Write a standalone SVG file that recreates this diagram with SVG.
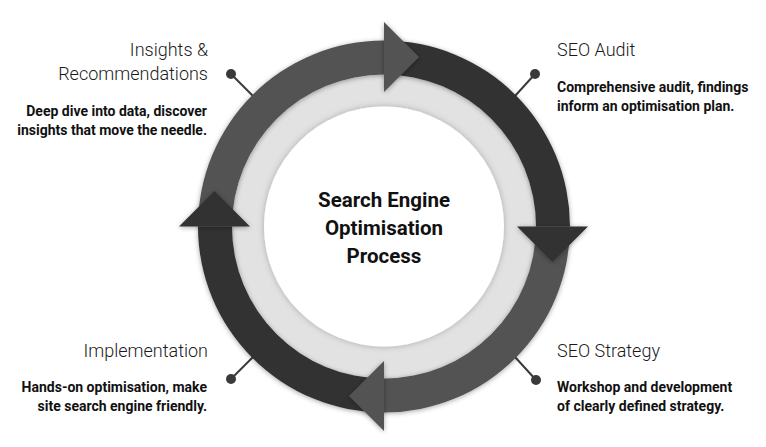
<svg xmlns="http://www.w3.org/2000/svg" width="766" height="447" viewBox="0 0 766 447">
<style>
.title{font-family:Roboto,"Liberation Sans",sans-serif;font-size:18px;font-weight:300;fill:#1a1a1a}
.body{font-family:Roboto,"Liberation Sans",sans-serif;font-size:14px;font-weight:700;fill:#111}
.center{font-family:Roboto,"Liberation Sans",sans-serif;font-size:20.5px;font-weight:700;fill:#111;text-anchor:middle}
.dark{fill:#323232}
.mid{fill:#525252}
.conn{stroke:#3a3a3a;stroke-width:2;fill:none}
.dot{fill:#3a3a3a}
</style>
<defs>
<filter id="sh" x="-20%" y="-20%" width="140%" height="140%">
<feDropShadow dx="0" dy="1" stdDeviation="2.5" flood-color="#000" flood-opacity="0.35"/>
</filter>
<filter id="sh2" x="-20%" y="-20%" width="140%" height="140%">
<feDropShadow dx="0" dy="0" stdDeviation="3" flood-color="#000" flood-opacity="0.25"/>
</filter>
</defs>
<rect width="766" height="447" fill="#fff"/>
<g id="connectors">
<line class="conn" x1="231" y1="74" x2="253" y2="96"/>
<circle class="dot" cx="231" cy="74" r="5"/>
<line class="conn" x1="535" y1="74" x2="515" y2="96"/>
<circle class="dot" cx="535" cy="74" r="5"/>
<line class="conn" x1="231" y1="379" x2="253" y2="357"/>
<circle class="dot" cx="231" cy="379" r="5"/>
<line class="conn" x1="536" y1="380" x2="515" y2="357"/>
<circle class="dot" cx="536" cy="380" r="5"/>
</g>
<g id="ring">
<circle cx="384" cy="226.5" r="152" fill="#e2e2e2"/>
<circle cx="384" cy="226.5" r="120" fill="#fff" filter="url(#sh2)"/>
<g filter="url(#sh)">
<path class="mid" d="M198 226.5A186 186 0 0 1 384 40.5L384 74.5A152 152 0 0 0 232 226.5Z"/>
<path class="dark" d="M384 40.5A186 186 0 0 1 570 226.5L536 226.5A152 152 0 0 0 384 74.5Z"/>
<path class="mid" d="M570 226.5A186 186 0 0 1 384 412.5L384 378.5A152 152 0 0 0 536 226.5Z"/>
<path class="dark" d="M384 412.5A186 186 0 0 1 198 226.5L232 226.5A152 152 0 0 0 384 378.5Z"/>
</g>
<polygon class="mid" filter="url(#sh)" points="384,22 384,92 419,57"/>
<polygon class="dark" filter="url(#sh)" points="517,226.5 588,226.5 552.5,262"/>
<polygon class="mid" filter="url(#sh)" points="384,361 384,431 349,396"/>
<polygon class="dark" filter="url(#sh)" points="250,226.5 179,226.5 214.5,191"/>
</g>
<g id="node-insights" text-anchor="end">
<text class="title" x="208" y="56">Insights &amp;</text>
<text class="title" x="208" y="80">Recommendations</text>
<text class="body" x="207" y="116">Deep dive into data, discover</text>
<text class="body" x="207" y="134.5">insights that move the needle.</text>
</g>
<g id="node-audit">
<text class="title" x="557" y="56">SEO Audit</text>
<text class="body" x="557" y="92">Comprehensive audit, findings</text>
<text class="body" x="557" y="111">inform an optimisation plan.</text>
</g>
<g id="node-implementation" text-anchor="end">
<text class="title" x="208" y="357">Implementation</text>
<text class="body" x="207" y="392">Hands-on optimisation, make</text>
<text class="body" x="207" y="411">site search engine friendly.</text>
</g>
<g id="node-strategy">
<text class="title" x="557" y="357">SEO Strategy</text>
<text class="body" x="557" y="392">Workshop and development</text>
<text class="body" x="557" y="411">of clearly defined strategy.</text>
</g>
<g id="node-center">
<text class="center" x="384" y="207">Search Engine</text>
<text class="center" x="384" y="235">Optimisation</text>
<text class="center" x="384" y="263">Process</text>
</g>
</svg>
